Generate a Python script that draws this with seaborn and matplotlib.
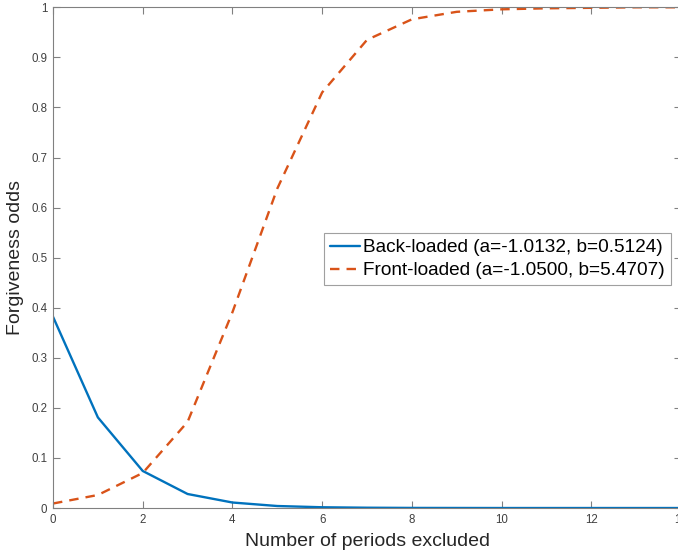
import matplotlib
matplotlib.use("Agg")
import matplotlib.pyplot as plt
import seaborn as sns
import pandas as pd
import numpy as np

periods = list(range(15))
back_loaded = [0.382, 0.181, 0.074, 0.028, 0.011, 0.004, 0.0015, 0.0006,
               0.0002, 0.0001, 0.0, 0.0, 0.0, 0.0, 0.0]
front_loaded = [0.009, 0.026, 0.070, 0.172, 0.391, 0.638, 0.830, 0.935,
                0.976, 0.991, 0.996, 0.998, 0.999, 1.0, 1.0]
labels = ["Back-loaded (a=-1.0132, b=0.5124)",
          "Front-loaded (a=-1.0500, b=5.4707)"]
xticks = [0, 2, 4, 6, 8, 10, 12, 14]
yticks = [0, 0.1, 0.2, 0.3, 0.4, 0.5, 0.6, 0.7, 0.8, 0.9, 1]
ytick_labels = ["0", "0.1", "0.2", "0.3", "0.4", "0.5", "0.6", "0.7", "0.8", "0.9", "1"]

df = pd.DataFrame({
    "x": periods * 2,
    "y": back_loaded + front_loaded,
    "series": [labels[0]] * len(periods) + [labels[1]] * len(periods),
})

sns.set_theme(style="white")
plt.rcParams['font.family'] = ['Liberation Sans', 'DejaVu Sans']

fig = plt.figure(figsize=(6.78, 5.54), dpi=100)
ax = fig.add_axes([0.0782, 0.083, 1.0044 - 0.0782, 0.9868 - 0.083])

palette = {labels[0]: "#0072BD", labels[1]: "#D95319"}
sns.lineplot(data=df, x="x", y="y", hue="series", style="series",
             palette=palette, dashes={labels[0]: "", labels[1]: (4, 3)},
             linewidth=1.7, ax=ax, legend=True)

ax.set_xlim(0, 14)
ax.set_ylim(0, 1)
ax.set_xticks(xticks)
ax.set_xticklabels([str(t) for t in xticks])
ax.set_yticks(yticks)
ax.set_yticklabels(ytick_labels)

gray = "#808080"
for s in ax.spines.values():
    s.set_visible(True)
    s.set_color(gray)
    s.set_linewidth(0.8)

ax.tick_params(axis="both", direction="in", length=5, width=0.8, color=gray,
               labelsize=8.3, labelcolor="#404040", top=True, right=True,
               bottom=True, left=True, pad=4)

ax.set_xlabel("Number of periods excluded", fontsize=14, color="#262626", labelpad=5)
ax.set_ylabel("Forgiveness odds", fontsize=14, color="#262626", labelpad=5)

leg = ax.legend(loc="center left", bbox_to_anchor=(0.432, 0.497), fontsize=13.7,
                frameon=True, fancybox=False, framealpha=1, edgecolor="#a0a0a0",
                borderpad=0.3, handlelength=1.6, handletextpad=0.15,
                labelspacing=0.3, borderaxespad=0)
leg._legend_box.sep = 0
leg.get_frame().set_linewidth(0.8)
for t in leg.get_texts():
    t.set_color("#000000")

fig.savefig("out.png", dpi=100)
